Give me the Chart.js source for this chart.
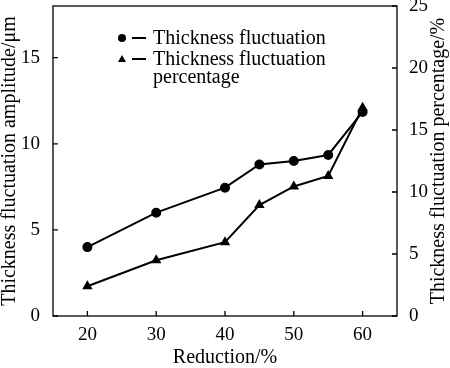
<!DOCTYPE html>
<html>
<head>
<meta charset="utf-8">
<script src="https://cdn.jsdelivr.net/npm/chart.js@4/dist/chart.umd.min.js"></script>
<style>
  html, body { margin: 0; padding: 0; background: #fff; }
  #wrap { width: 450px; height: 368px; }
</style>
</head>
<body>
<div id="wrap"><canvas id="chart" width="450" height="368"></canvas></div>
<script>
const reduction = [20, 30, 40, 45, 50, 55, 60];
const amplitude = [4.0, 6.0, 7.45, 8.8, 9.0, 9.35, 11.85];
const percentage = [2.4, 4.5, 5.95, 8.95, 10.45, 11.3, 16.8];
const xTicks = [20, 30, 40, 50, 60];
const leftTicks = [0, 5, 10, 15];
const rightTicks = [0, 5, 10, 15, 20, 25];

const FONT = '"Liberation Serif", "Times New Roman", serif';

const fixedTicks = list => scale => {
  scale.ticks = list.map(v => ({value: v}));
};

const fitY = s => {
  s.width = 53;
  s.paddingTop = 0;
  s.paddingBottom = 0;
};

// box, inward tick marks, axis titles and the hand-made legend
const frame = {
  id: 'frame',
  afterDraw(chart) {
    const {ctx, chartArea: a, scales} = chart;
    ctx.save();
    ctx.strokeStyle = '#000';
    ctx.lineWidth = 1.3;
    ctx.strokeRect(a.left, a.top, a.right - a.left, a.bottom - a.top);
    ctx.beginPath();
    xTicks.forEach(v => {
      const x = scales.x.getPixelForValue(v);
      ctx.moveTo(x, a.bottom); ctx.lineTo(x, a.bottom - 5);
    });
    leftTicks.forEach(v => {
      const y = scales.y.getPixelForValue(v);
      ctx.moveTo(a.left, y); ctx.lineTo(a.left + 5, y);
    });
    rightTicks.forEach(v => {
      const y = scales.y2.getPixelForValue(v);
      ctx.moveTo(a.right, y); ctx.lineTo(a.right - 5, y);
    });
    ctx.stroke();

    ctx.fillStyle = '#000';
    ctx.font = `20px ${FONT}`;
    ctx.textAlign = 'center';
    ctx.textBaseline = 'middle';
    ctx.fillText('Reduction/%', (a.left + a.right) / 2, 358);

    ctx.save();
    ctx.translate(10, (a.top + a.bottom) / 2);
    ctx.rotate(-Math.PI / 2);
    ctx.fillText('Thickness fluctuation amplitude/μm', 0, 0);
    ctx.restore();

    ctx.save();
    ctx.translate(439, (a.top + a.bottom) / 2);
    ctx.rotate(-Math.PI / 2);
    ctx.fillText('Thickness fluctuation percentage/%', 0, 0);
    ctx.restore();

    // legend
    ctx.textAlign = 'left';
    ctx.beginPath();
    ctx.arc(122, 38, 4, 0, Math.PI * 2);
    ctx.fill();
    ctx.beginPath();
    ctx.moveTo(122, 55); ctx.lineTo(126, 62); ctx.lineTo(118, 62);
    ctx.closePath();
    ctx.fill();
    ctx.lineWidth = 2;
    ctx.beginPath();
    ctx.moveTo(132, 38); ctx.lineTo(146, 38);
    ctx.moveTo(132, 59); ctx.lineTo(146, 59);
    ctx.stroke();
    ctx.fillText('Thickness fluctuation', 153, 39);
    ctx.fillText('Thickness fluctuation', 153, 60);
    ctx.fillText('percentage', 153, 78);
    ctx.restore();
  }
};

new Chart(document.getElementById('chart'), {
  type: 'line',
  data: {
    labels: reduction,
    datasets: [
      {
        label: 'Thickness fluctuation',
        data: reduction.map((x, i) => ({x, y: amplitude[i]})),
        yAxisID: 'y',
        borderColor: '#000',
        backgroundColor: '#000',
        borderWidth: 2,
        pointStyle: 'circle',
        pointRadius: 4,
        tension: 0
      },
      {
        label: 'Thickness fluctuation percentage',
        data: reduction.map((x, i) => ({x, y: percentage[i]})),
        yAxisID: 'y2',
        borderColor: '#000',
        backgroundColor: '#000',
        borderWidth: 2,
        pointStyle: 'triangle',
        pointRadius: 4,
        tension: 0
      }
    ]
  },
  options: {
    responsive: false,
    animation: false,
    layout: {padding: {top: 5}},
    plugins: {legend: {display: false}, tooltip: {enabled: false}},
    scales: {
      x: {
        type: 'linear',
        min: 15, max: 65,
        afterBuildTicks: fixedTicks(xTicks),
        afterFit: s => { s.height = 52; s.paddingLeft = 0; s.paddingRight = 0; },
        grid: {display: false},
        border: {display: false},
        ticks: {color: '#000', padding: 0, font: {family: FONT, size: 19}, maxRotation: 0}
      },
      y: {
        position: 'left',
        min: 0, max: 18,
        afterBuildTicks: fixedTicks(leftTicks),
        afterFit: fitY,
        grid: {display: false},
        border: {display: false},
        ticks: {color: '#000', padding: 5, font: {family: FONT, size: 19}}
      },
      y2: {
        position: 'right',
        min: 0, max: 25,
        afterBuildTicks: fixedTicks(rightTicks),
        afterFit: fitY,
        grid: {display: false},
        border: {display: false},
        ticks: {color: '#000', padding: 4, font: {family: FONT, size: 19}}
      }
    }
  },
  plugins: [frame]
});
</script>
</body>
</html>
